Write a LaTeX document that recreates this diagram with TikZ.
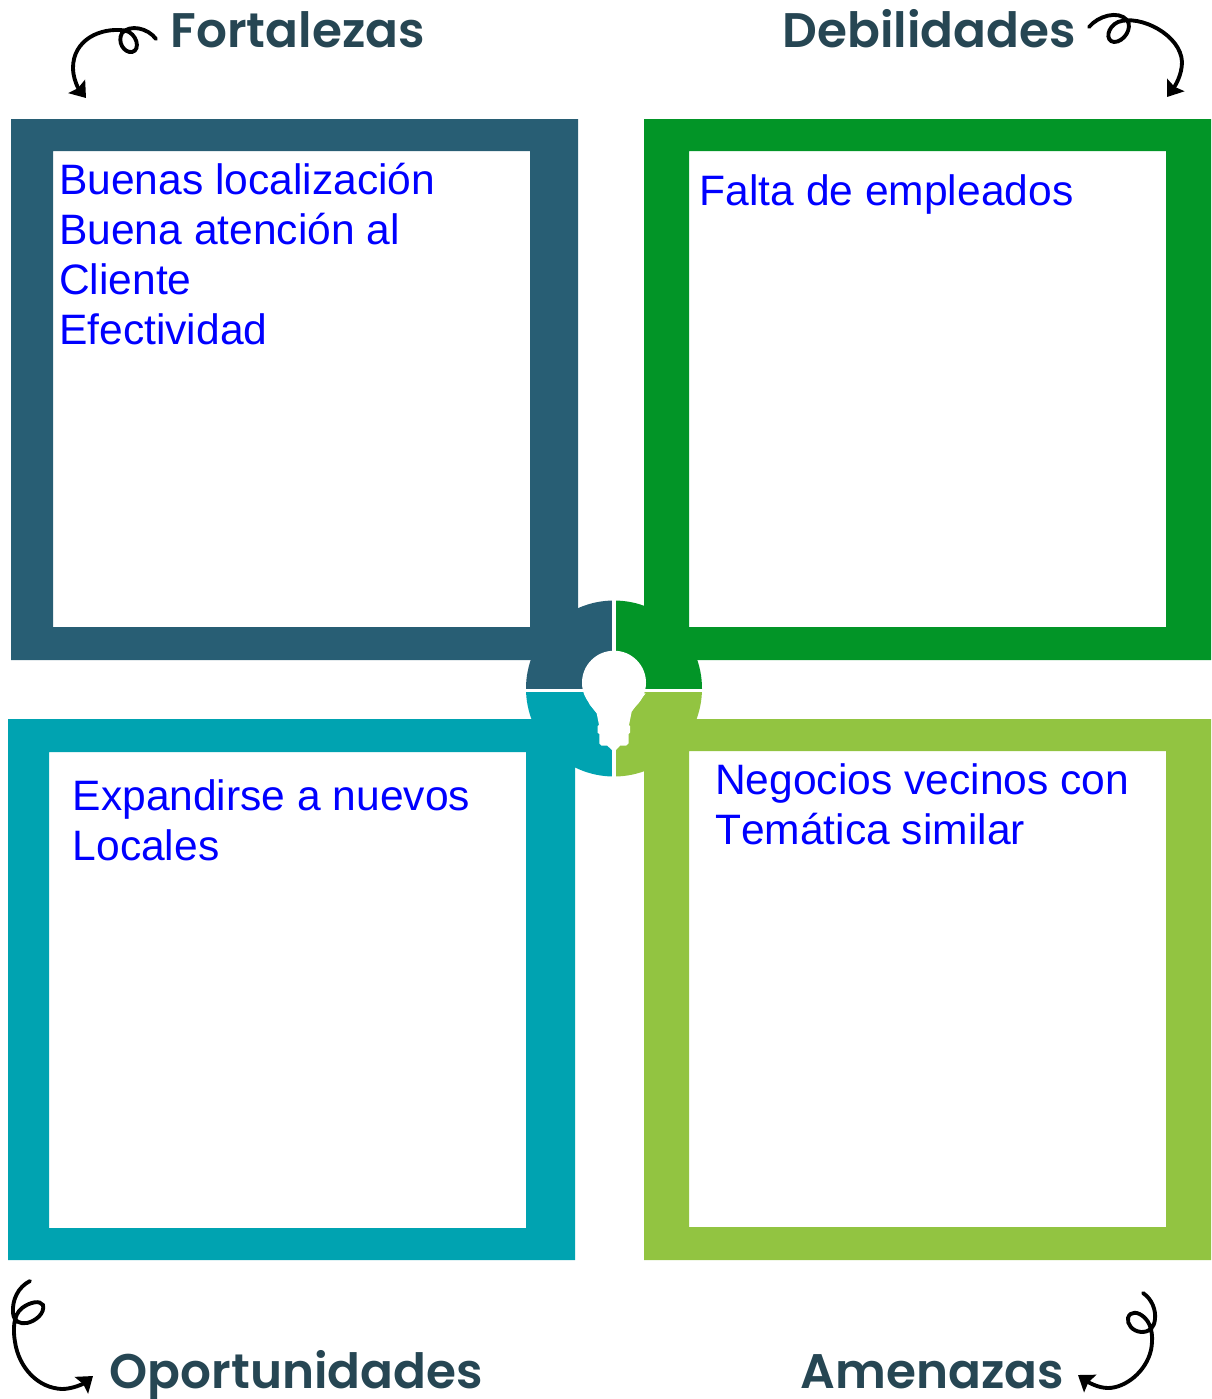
\documentclass[tikz,border=0pt]{standalone}
\usepackage{fontspec}
\setmainfont{Liberation Sans}[Kerning=Off]
\newfontfamily\titlefont{Poppins SemiBold}
\usetikzlibrary{arrows.meta}
\definecolor{fortcolor}{HTML}{285E74}
\definecolor{debcolor}{HTML}{029527}
\definecolor{opocolor}{HTML}{00A3B1}
\definecolor{amecolor}{HTML}{92C441}
\definecolor{titlecolor}{HTML}{264653}
\tikzset{
  swirl/.style={draw=black,line width=1.1pt,line cap=round,-{Stealth[length=4.2pt,width=6pt,inset=0.6pt]}},
  title/.style={anchor=base west,inner sep=0pt,text=titlecolor,font=\titlefont\fontsize{13.8}{16}\selectfont},
  body/.style={anchor=base west,inner sep=0pt,align=left,text=blue,font=\fontsize{12.1}{14.17}\selectfont},
}
\begin{document}
\begin{tikzpicture}[x=0.01cm,y=-0.01cm]
        \useasboundingbox (0,0) rectangle (1211,1399);
        % frames
        \fill[fortcolor,even odd rule] (11,119) rectangle (578,660) (53,151) rectangle (530,627);
        \fill[debcolor,even odd rule] (644,119) rectangle (1211,660) (689,151) rectangle (1166,627);
        \fill[opocolor,even odd rule] (8,719) rectangle (575,1260) (49,752) rectangle (526,1228);
        \fill[amecolor,even odd rule] (644,719) rectangle (1211,1260) (689,751) rectangle (1166,1227);
        % middle disc
        \begin{scope}
            \clip (614,688.5) circle (88);
            \fill[fortcolor] (500,580) rectangle (614,690);
            \fill[debcolor] (614,580) rectangle (730,690);
            \fill[opocolor] (500,690) rectangle (614,800);
            \fill[amecolor] (614,690) rectangle (730,800);
        \end{scope}
        \draw[white,line width=0.95pt] (614,590) -- (614,790) (515,690.5) -- (712,690.5);
        % bulb
        \fill[white] (614,682.7) circle (32);
        \fill[white] (584,693.3) -- (590,705) -- (596.7,713.3) -- (599,725) -- (597.7,726) -- (597.7,732.7)
            -- (599.3,734) -- (599.3,743.3) -- (601.7,745.7) -- (607.3,745.7) -- (612,750) -- (616,750)
            -- (620,745.7) -- (626,745.7) -- (628.7,743.3) -- (628.7,734) -- (630,732.7) -- (630,726)
            -- (629,725) -- (631.7,711.7) -- (638,703) -- (645.7,693.3) -- cycle;
        % texts
        \node[title] (fortalezas) at (170,47) {Fortalezas};
        \node[title] (debilidades) at (782,47) {Debilidades};
        \node[title] (oportunidades) at (109,1388) {Oportunidades};
        \node[title] (amenazas) at (800,1388) {Amenazas};
        \node[body] (fortlist) at (58.5,344) {Buenas localización\\Buena atención al\\Cliente\\Efectividad};
        \node[body] (deblist) at (699,205) {Falta de empleados};
        \node[body] (opolist) at (72,860) {Expandirse a nuevos\\Locales};
        \node[body] (amelist) at (714.5,844) {Negocios vecinos con\\Temática similar};
        % arrows
        \draw[swirl] (156,39) .. controls (148,28) and (130,24) .. (122,33) .. controls (117,42) and (124,53) .. (132,52)
            .. controls (141,50) and (137,33) .. (125,30.5) .. controls (100,27) and (73,40) .. (73,68) .. controls (73,78) and (78,88) .. (86,98);
        \draw[swirl] (1089,27) .. controls (1098,16) and (1118,10) .. (1127,20) .. controls (1133,28) and (1124,42) .. (1114,42)
            .. controls (1105,41) and (1107,27) .. (1118,22) .. controls (1140,14) and (1181,35) .. (1182,62) .. controls (1182,75) and (1175,86) .. (1167,97);
        \draw[swirl] (30,1281) .. controls (18,1287) and (12,1300) .. (13,1313) .. controls (14,1322) and (20,1324) .. (27,1323)
            .. controls (36,1321) and (45,1313) .. (43,1305) .. controls (40,1300) and (30,1302) .. (22,1308) .. controls (13,1315) and (13,1330) .. (15,1342)
            .. controls (19,1368) and (38,1388) .. (62,1389) .. controls (72,1389) and (83,1384) .. (93,1376);
        \draw[swirl] (1143,1293) .. controls (1152,1299) and (1156,1310) .. (1155,1319) .. controls (1154,1328) and (1150,1332) .. (1141,1332)
            .. controls (1132,1331) and (1127,1324) .. (1128,1318) .. controls (1130,1311) and (1138,1311) .. (1145,1318) .. controls (1153,1326) and (1153,1340) .. (1151,1350)
            .. controls (1146,1372) and (1125,1388) .. (1108,1388) .. controls (1098,1388) and (1088,1382) .. (1078,1375);
    \end{tikzpicture}
\end{document}
